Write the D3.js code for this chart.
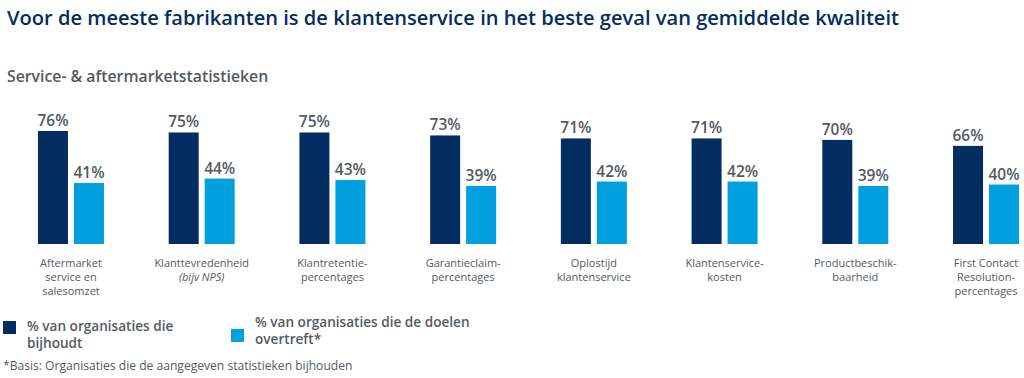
<!DOCTYPE html>
<html><head><meta charset="utf-8">
<script src="https://cdn.jsdelivr.net/npm/d3@7"></script>
<style>body{margin:0;background:#fff;}svg{display:block;}</style>
</head><body>
<svg id="chart" width="1024" height="378"></svg>
<script>
const categories = [
  ["Aftermarket","service en","salesomzet"],
  ["Klanttevredenheid","(bijv NPS)"],
  ["Klantretentie-","percentages"],
  ["Garantieclaim-","percentages"],
  ["Oplostijd","klantenservice"],
  ["Klantenservice-","kosten"],
  ["Productbeschik-","baarheid"],
  ["First Contact","Resolution-","percentages"]
];
const tracked = [76,75,75,73,71,71,70,66];
const exceeded = [41,44,43,39,42,42,39,40];
const seriesNames = [["% van organisaties die","bijhoudt"],["% van organisaties die de doelen","overtreft*"]];
const title = "Voor de meeste fabrikanten is de klantenservice in het beste geval van gemiddelde kwaliteit";
const subtitle = "Service- & aftermarketstatistieken";
const footnote = "*Basis: Organisaties die de aangegeven statistieken bijhouden";

const dark = "#032d60", light = "#00a0df", grey = "#555a60";
const font = "'Open Sans', sans-serif";
const svg = d3.select("#chart");

svg.append("text").attr("x",7).attr("y",25).attr("fill",dark)
  .attr("font-family",font).attr("font-weight",600).attr("font-size",20.1).text(title);
svg.append("text").attr("x",7).attr("y",82).attr("fill",grey)
  .attr("font-family",font).attr("font-weight",600).attr("font-size",15.8).text(subtitle);

const idx = categories.map((d,i)=>i);
const x0 = d3.scaleBand().domain(idx).range([5.6,1051.4]).paddingInner(0).paddingOuter(0);
const x1 = d3.scaleBand().domain([0,1]).range([0,66]).paddingInner(6/36).paddingOuter(0);
const baseY = 244;
const y = d3.scaleLinear().domain([0,100]).range([baseY, baseY-148.7]);

const groups = svg.selectAll("g.grp").data(idx).join("g").attr("class","grp")
  .attr("transform", i => `translate(${x0(i)+x0.bandwidth()/2-33},0)`);

const series = [tracked, exceeded];
const colors = [dark, light];
series.forEach((vals, s) => {
  groups.append("rect")
    .attr("x", x1(s)).attr("width", x1.bandwidth())
    .attr("y", i => y(vals[i])).attr("height", i => baseY - y(vals[i]))
    .attr("fill", colors[s]);
  groups.append("text")
    .attr("x", x1(s)+x1.bandwidth()/2).attr("y", i => y(vals[i]) - 5)
    .attr("text-anchor","middle").attr("fill",grey)
    .attr("font-family",font).attr("font-weight",600).attr("font-size",15.5)
    .text(i => vals[i] + "%");
});

groups.each(function(i){
  const g = d3.select(this);
  const t = g.append("text").attr("text-anchor","middle").attr("fill",grey)
    .attr("font-family",font).attr("font-size",11);
  categories[i].forEach((line, k) => {
    t.append("tspan").attr("x", 33).attr("y", 267 + k*14)
      .attr("font-style", line.startsWith("(") ? "italic" : null)
      .text(line);
  });
});

// legend
const legX = [3, 231];
const legSq = [321, 329];
const legText = [[331,348],[327,344]];
seriesNames.forEach((nm, s) => {
  svg.append("rect").attr("x", legX[s]).attr("y", legSq[s]).attr("width",13).attr("height",13).attr("fill",colors[s]);
  const t = svg.append("text").attr("fill",grey).attr("font-family",font).attr("font-weight",600).attr("font-size",13.6);
  nm.forEach((line,k)=>{
    t.append("tspan").attr("x", legX[s]+24).attr("y", legText[s][k]).text(line);
  });
});

svg.append("text").attr("x",3).attr("y",370).attr("fill",grey)
  .attr("font-family",font).attr("font-size",12.1).text(footnote);
</script>
</body></html>
